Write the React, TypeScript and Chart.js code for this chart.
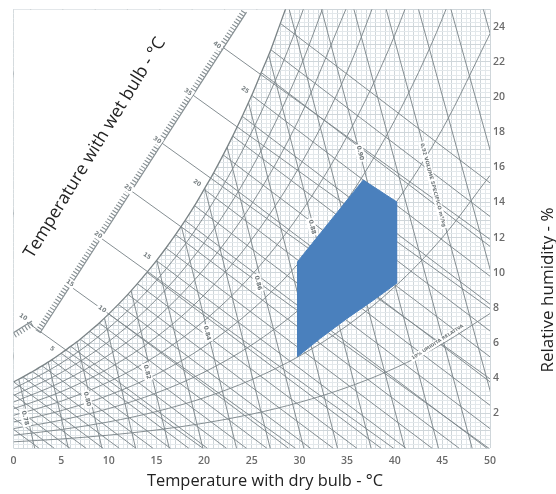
import React, { useEffect, useRef } from 'react';
import { Chart, registerables } from 'chart.js';

Chart.register(...registerables);

// ---------- DATA ----------
// Saturation curve (100% RH): dry bulb °C -> humidity ratio g/kg
const SAT_T = [0,1,2,3,4,5,6,7,8,9,10,11,12,13,14,15,16,17,18,19,20,21,22,23,24,25,26,27,28,29];
const SAT_W = [3.79,4.07,4.38,4.70,5.04,5.42,5.81,6.22,6.67,7.14,7.66,8.20,8.77,9.38,10.02,10.69,11.41,12.17,12.97,13.82,14.75,15.69,16.71,17.78,18.91,20.1,21.4,22.7,24.2,25.7];

// Relative humidity curves, sampled every 5 °C
const RH_T = [0,5,10,15,20,25,30,35,40,45,50];
const RH_10 = [0.375,0.536,0.755,1.049,1.439,1.951,2.618,3.474,4.566,5.95,7.68];
const RH_20 = [0.751,1.073,1.511,2.100,2.885,3.915,5.257,6.987,9.200,12.005,15.54];
const RH_30 = [1.127,1.610,2.270,3.156,4.338,5.891,7.919,10.54,13.90,18.18,23.61];
const RH_40 = [1.504,2.149,3.030,4.215,5.797,7.880,10.60,14.13,18.68,24.48,31.88];
const RH_50 = [1.881,2.688,3.792,5.278,7.263,9.881,13.31,17.77,23.52,30.91];
const RH_60 = [2.259,3.228,4.556,6.344,8.736,11.90,16.04,21.44,28.44];
const RH_70 = [2.637,3.770,5.322,7.414,10.22,13.92,18.80,25.16];
const RH_80 = [3.015,4.312,6.090,8.487,11.70,15.96,21.58,28.93];
const RH_90 = [3.394,4.855,6.859,9.565,13.20,18.02,24.38,32.73];

// Wet-bulb lines: start on saturation, end on the w = 0 line
const WB_T = [-4,-3,-2,-1,0,1,2,3,4,5,6,7,8,9,10,11,12,13,14,15,16,17,18,19,20,21,22,23,24,25,26,27,28];
const WB_SAT = [2.69,2.93,3.19,3.47,3.79,4.07,4.38,4.70,5.04,5.42,5.81,6.22,6.67,7.14,7.66,8.20,8.77,9.38,10.02,10.69,11.41,12.17,12.97,13.82,14.75,15.69,16.71,17.78,18.91,20.1,21.4,22.7,24.2];
const WB_T0 = [2.7,4.29,5.94,7.63,9.42,11.11,12.87,14.65,16.48,18.41,20.36,22.36,24.46,26.6,28.87,31.18,33.56,36.04,38.59,41.2,43.94,46.78,49.7,52.75,55.99,59.24,62.69,66.26,69.95,73.8,77.9,82.0,86.6];

// Specific volume lines (m³/kg): dry bulb at w = 0 and at w = 25 g/kg
const V_VALUES = [0.78,0.79,0.80,0.81,0.82,0.83,0.84,0.85,0.86,0.87,0.88,0.89,0.90,0.91,0.92,0.93,0.94,0.95];
const V_T_DRY = [2.23,5.76,9.29,12.82,16.35,19.88,23.41,26.94,30.47,34.0,37.53,41.06,44.6,48.13,51.66,55.19,58.72,62.25];
const V_T_TOP = [-8.4,-5.0,-1.6,1.8,5.17,8.57,11.95,15.35,18.74,22.14,25.53,28.93,32.32,35.72,39.11,42.5,45.9,49.3];

// Enthalpy lines starting on the diagonal scale
const ENTH_LABELS = ['10','15','20','25','30','35','40'];
const ENTH_START_T = [1.42,5.93,9.18,12.38,15.58,18.84,22.09];
const ENTH_START_W = [7.19,9.24,11.97,14.65,17.38,20.11,22.79];
const ENTH_END_T = [19.9,29.6,39.9,49.9,50,50,50];
const ENTH_END_W = [0,0,0,0,3.96,7.96,11.9];
const ENTH_LABEL_T = [1.0,5.93,8.87,12.01,15.06,18.31,21.35];
const ENTH_LABEL_W = [7.48,9.41,12.15,14.82,17.55,20.28,22.96];

// Diagonal scale (main and small left piece)
const SCALE_T = [2.78,24.45];
const SCALE_W = [6.57,24.84];
const SCALE_TICK_T = [2.52,24.19];
const SCALE_TICK_W = [6.66,24.93];
const SCALE2_T = [-0.05,1.94];
const SCALE2_W = [6.57,7.26];
const SCALE2_TICK_T = [0.12,2.11];
const SCALE2_TICK_W = [6.43,7.12];

// Labels on the chart
const V_LABEL_TEXT = ['0.78','0.80','0.82','0.84','0.86','0.88','0.90'];
const V_LABEL_T = [1.21,7.71,14.01,20.30,25.66,31.32,36.36];
const V_LABEL_W = [1.73,2.81,4.35,6.57,9.42,12.60,16.82];
const WB_LABEL_TEXT = ['5','10','15','20','25'];
const WB_LABEL_T = [4.04,9.29,14.01,19.25,24.29];
const WB_LABEL_W = [5.66,7.93,10.95,15.11,20.40];
const RH_LABEL = '10% UMIDITÀ RELATIVA';
const RH_LABEL_POS = [44.5, 6.05];
const V_NAME_LABEL = '0,92 VOLUME SPECIFICO m³/kg';
const V_NAME_POS = [44.02, 14.99];

// Comfort zone polygon
const ZONE_T = [29.8,29.8,36.7,40.2,40.2,37.8,35.0,32.2,29.8];
const ZONE_W = [5.22,10.63,15.28,14.04,9.40,8.45,7.40,6.27,5.22];

// Axis ranges / ticks
const X_MIN = 0, X_MAX = 50, X_STEP = 0.5, X_LABEL_EVERY = 5;
const Y_MIN = 0, Y_MAX = 25, Y_STEP = 0.25, Y_LABEL_EVERY = 2;

const TITLE_X = 'Temperature with dry bulb - °C';
const TITLE_Y = 'Relative humidity - %';
const TITLE_WB = 'Temperature with wet bulb - °C';

// ---------- helpers ----------
const pts = (xs: number[], ys: number[]) => xs.map((x, i) => ({ x, y: ys[i] }));
const isMult = (v: number, m: number) => Math.abs(v / m - Math.round(v / m)) < 1e-6;

const MESH = 'rgba(126,136,140,0.95)';
const ZONE = '#4a80bd';

function drawLabel(ctx: CanvasRenderingContext2D, text: string, px: number, py: number, angle: number, size: number, color: string, bg: boolean) {
  ctx.save();
  ctx.translate(px, py);
  ctx.rotate((angle * Math.PI) / 180);
  ctx.font = `bold ${size}px "DejaVu Sans"`;
  const w = ctx.measureText(text).width;
  if (bg) {
    ctx.fillStyle = '#ffffff';
    ctx.fillRect(-w / 2 - 1.5, -size * 0.7, w + 3, size * 1.4);
  }
  ctx.fillStyle = color;
  ctx.textAlign = 'center';
  ctx.textBaseline = 'middle';
  ctx.fillText(text, 0, 0);
  ctx.restore();
}

const overlayPlugin = {
  id: 'psychroOverlay',
  afterDatasetsDraw(chart: any) {
    const ctx: CanvasRenderingContext2D = chart.ctx;
    const x = chart.scales.x;
    const y = chart.scales.y;
    const px = (t: number) => x.getPixelForValue(t);
    const py = (w: number) => y.getPixelForValue(w);

    V_LABEL_TEXT.forEach((t, i) => drawLabel(ctx, t, px(V_LABEL_T[i]), py(V_LABEL_W[i]), 76, 6, '#6f777a', true));
    WB_LABEL_TEXT.forEach((t, i) => drawLabel(ctx, t, px(WB_LABEL_T[i]), py(WB_LABEL_W[i]), 35, 6, '#7a8285', true));
    ENTH_LABELS.forEach((t, i) => drawLabel(ctx, t, px(ENTH_LABEL_T[i]), py(ENTH_LABEL_W[i]), 35, 6, '#7a8285', true));
    drawLabel(ctx, RH_LABEL, px(RH_LABEL_POS[0]), py(RH_LABEL_POS[1]), -33, 4.6, '#6f777a', true);
    drawLabel(ctx, V_NAME_LABEL, px(V_NAME_POS[0]), py(V_NAME_POS[1]), 75, 5, '#6f777a', true);

    // axis titles
    ctx.save();
    ctx.fillStyle = '#222222';
    ctx.textAlign = 'center';
    ctx.textBaseline = 'middle';
    ctx.font = '16.4px "Open Sans"';
    ctx.fillText(TITLE_X, 265, 481);
    ctx.save();
    ctx.translate(548, 290);
    ctx.rotate(-Math.PI / 2);
    ctx.font = '17px "Open Sans"';
    ctx.fillText(TITLE_Y, 0, 0);
    ctx.restore();
    ctx.save();
    ctx.translate(95, 148);
    ctx.rotate((-58.5 * Math.PI) / 180);
    ctx.font = '17.5px "Open Sans"';
    ctx.fillText(TITLE_WB, 0, 0);
    ctx.restore();
    ctx.restore();
  },
};

export default function App() {
  const ref = useRef<HTMLCanvasElement | null>(null);

  useEffect(() => {
    if (!ref.current) return;

    const line = (data: any[], extra: any = {}) => ({
      data,
      borderColor: MESH,
      borderWidth: 1,
      pointRadius: 0,
      tension: 0,
      fill: false,
      order: 10,
      ...extra,
    });

    const datasets: any[] = [];
    [RH_10, RH_20, RH_30, RH_40, RH_50, RH_60, RH_70, RH_80, RH_90].forEach((arr) => {
      datasets.push(line(pts(RH_T.slice(0, arr.length), arr), { cubicInterpolationMode: 'monotone' }));
    });
    WB_T.forEach((t, i) => {
      datasets.push(line([{ x: t, y: WB_SAT[i] }, { x: WB_T0[i], y: 0 }]));
    });
    V_VALUES.forEach((_v, i) => {
      datasets.push(line([{ x: V_T_DRY[i], y: 0 }, { x: V_T_TOP[i], y: Y_MAX }]));
    });
    // white area above saturation + saturation curve
    datasets.push(line(pts(SAT_T, SAT_W), {
      borderColor: '#7b8487',
      borderWidth: 1.3,
      fill: 'end',
      backgroundColor: '#ffffff',
      cubicInterpolationMode: 'monotone',
      order: 5,
    }));
    ENTH_LABELS.forEach((_l, i) => {
      datasets.push(line([{ x: ENTH_START_T[i], y: ENTH_START_W[i] }, { x: ENTH_END_T[i], y: ENTH_END_W[i] }], { order: 3 }));
    });
    datasets.push(line(pts(SCALE_T, SCALE_W), { borderWidth: 1.2, order: 3 }));
    datasets.push(line(pts(SCALE_TICK_T, SCALE_TICK_W), { borderWidth: 5, borderDash: [1.1, 2.2], order: 3 }));
    datasets.push(line(pts(SCALE2_T, SCALE2_W), { borderWidth: 1.2, order: 3 }));
    datasets.push(line(pts(SCALE2_TICK_T, SCALE2_TICK_W), { borderWidth: 5, borderDash: [1.1, 2.2], order: 3 }));
    // comfort zone
    datasets.push(line(pts(ZONE_T, ZONE_W), {
      borderColor: ZONE,
      backgroundColor: ZONE,
      fill: 'shape',
      order: 1,
    }));

    const tickFont = { family: '"Open Sans"', size: 10.5, weight: '600' as any };

    const chart = new Chart(ref.current, {
      type: 'line',
      data: { datasets },
      plugins: [overlayPlugin],
      options: {
        animation: false,
        responsive: true,
        maintainAspectRatio: false,
        events: [],
        layout: { padding: { left: 13.5, top: 9.1, right: 0, bottom: 0 } },
        plugins: { legend: { display: false }, tooltip: { enabled: false } },
        elements: { point: { radius: 0 } },
        scales: {
          x: {
            type: 'linear',
            min: X_MIN,
            max: X_MAX,
            border: { display: false },
            grid: {
              drawTicks: false,
              lineWidth: 1,
              color: (c: any) => (isMult(c.tick.value, 1) ? '#cfd6da' : '#e3e8eb'),
            },
            ticks: {
              stepSize: X_STEP,
              maxTicksLimit: 500,
              autoSkip: false,
              maxRotation: 0,
              padding: 6,
              color: '#6a6a6a',
              font: tickFont,
              callback: (v: any) => (isMult(Number(v), X_LABEL_EVERY) ? String(Math.round(Number(v))) : ''),
            },
            afterFit: (s: any) => { s.height = 45.6; },
          },
          y: {
            type: 'linear',
            position: 'right',
            min: Y_MIN,
            max: Y_MAX,
            border: { display: false },
            grid: {
              drawTicks: false,
              lineWidth: 1,
              color: (c: any) => (isMult(c.tick.value, 1) ? '#cfd6da' : '#e3e8eb'),
            },
            ticks: {
              stepSize: Y_STEP,
              maxTicksLimit: 500,
              autoSkip: false,
              padding: 3,
              color: '#6a6a6a',
              font: tickFont,
              callback: (v: any) => {
                const n = Number(v);
                return isMult(n, Y_LABEL_EVERY) && n > 0 && n < Y_MAX ? String(Math.round(n)) : '';
              },
            },
            afterFit: (s: any) => { s.width = 66; },
          },
        },
      } as any,
    });

    return () => chart.destroy();
  }, []);

  return (
    <div style={{ position: 'absolute', left: 0, top: 0, width: 556, height: 494, background: '#ffffff' }}>
      <canvas ref={ref} />
    </div>
  );
}
